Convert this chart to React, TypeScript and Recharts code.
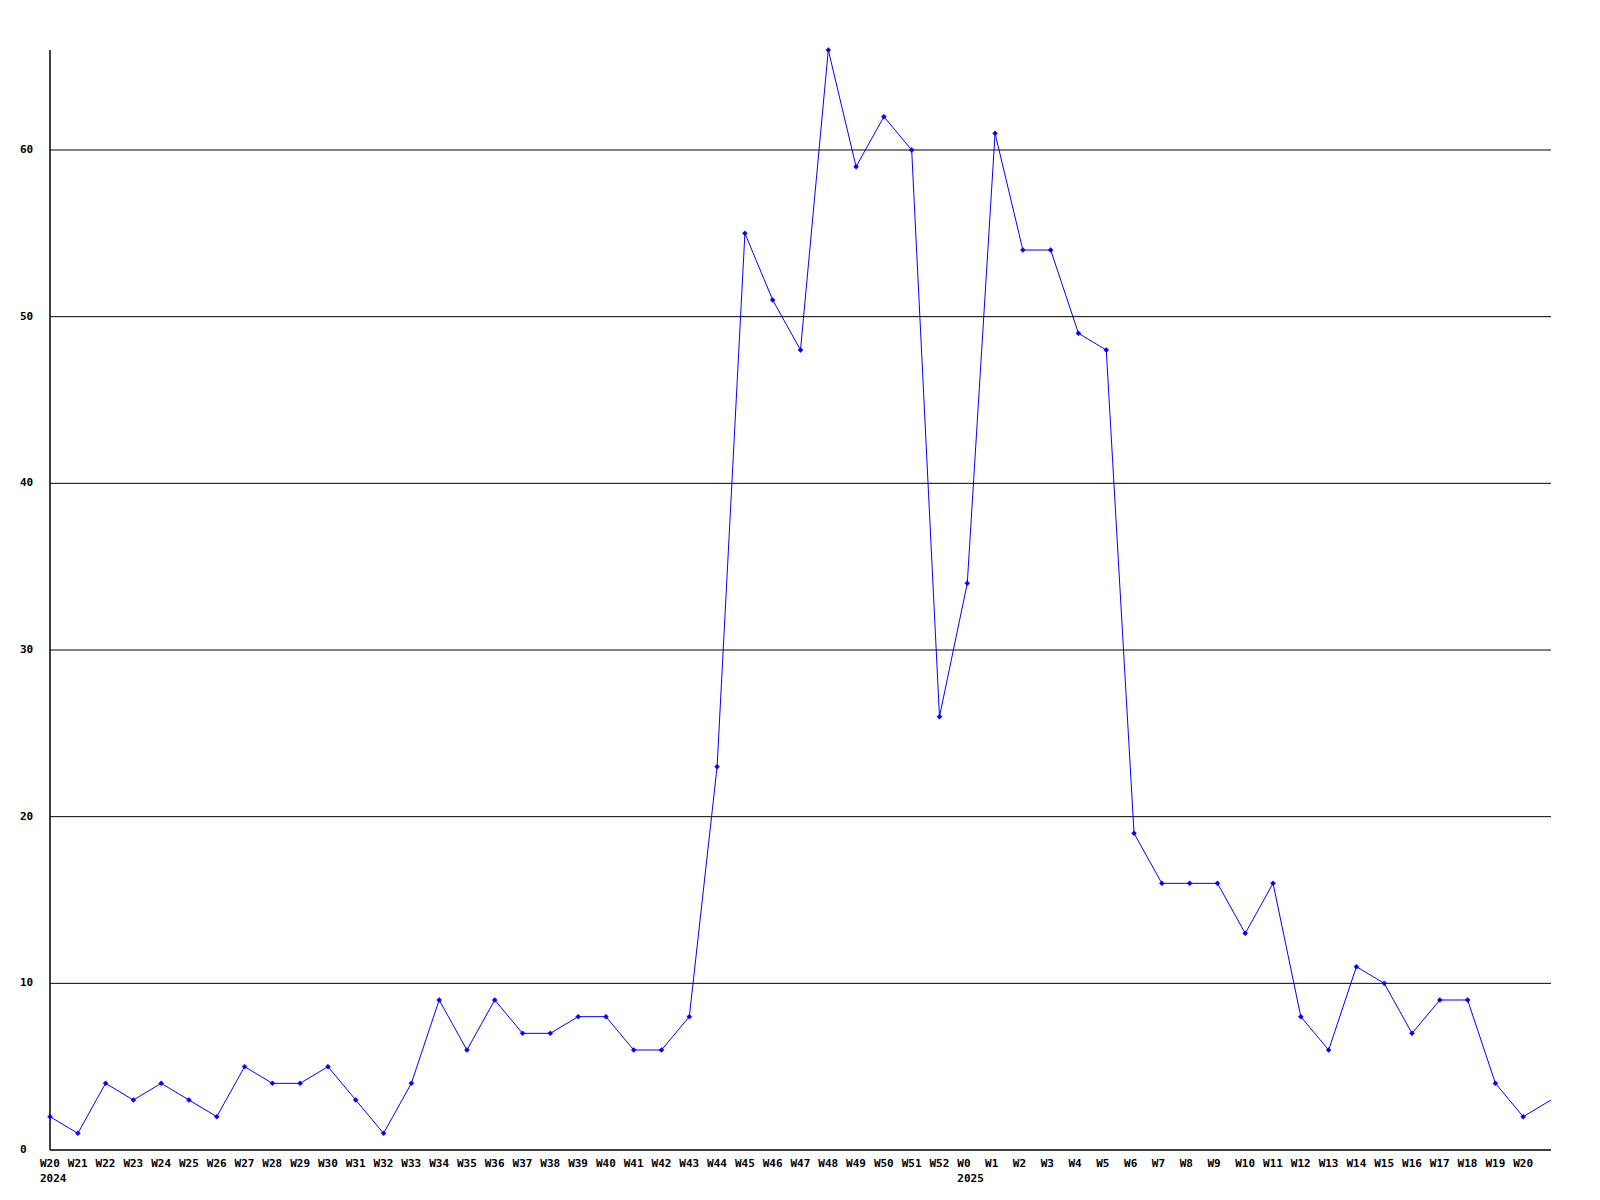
import React from "react";
import {
  LineChart,
  Line,
  XAxis,
  YAxis,
  CartesianGrid
} from "recharts";

// week labels, the last point (W21 of 2025) has no label shown
const weeks = [
  "W20", "W21", "W22", "W23", "W24", "W25", "W26", "W27", "W28", "W29", "W30",
  "W31", "W32", "W33", "W34", "W35", "W36", "W37", "W38", "W39", "W40", "W41",
  "W42", "W43", "W44", "W45", "W46", "W47", "W48", "W49", "W50", "W51", "W52",
  "W0", "W1", "W2", "W3", "W4", "W5", "W6", "W7", "W8", "W9", "W10", "W11",
  "W12", "W13", "W14", "W15", "W16", "W17", "W18", "W19", "W20", ""
];

// year shown under the first week of each year
const years: Record<number, string> = { 0: "2024", 33: "2025" };

const counts = [
  2, 1, 4, 3, 4, 3, 2, 5, 4, 4, 5,
  3, 1, 4, 9, 6, 9, 7, 7, 8, 8, 6,
  6, 8, 23, 55, 51, 48, 66, 59, 62, 60, 26,
  34, 61, 54, 54, 49, 48, 19, 16, 16, 16, 13, 16,
  8, 6, 11, 10, 7, 9, 9, 4, 2, 3
];

const yTicks = [0, 10, 20, 30, 40, 50, 60];
const gridLines = [10, 20, 30, 40, 50, 60];

const data = weeks.map((w, i) => ({ idx: i, week: w, value: counts[i] }));

const FONT = "'DejaVu Sans Mono', monospace";

const WeekTick = (props: any) => {
  const { x, y, payload } = props;
  const i = payload.value as number;
  const label = weeks[i];
  if (!label) return null;
  return (
    <g>
      <text x={x - 10} y={y + 6} textAnchor="start" dominantBaseline="middle"
        fontFamily={FONT} fontSize={11} fontWeight="bold" fill="#000">
        {label}
      </text>
      {years[i] && (
        <text x={x - 10} y={y + 21} textAnchor="start" dominantBaseline="middle"
          fontFamily={FONT} fontSize={11} fontWeight="bold" fill="#000">
          {years[i]}
        </text>
      )}
    </g>
  );
};

const ValueTick = (props: any) => {
  const { y, payload } = props;
  return (
    <text x={20} y={y} textAnchor="start" dominantBaseline="middle"
      fontFamily={FONT} fontSize={11} fontWeight="bold" fill="#000">
      {payload.value}
    </text>
  );
};

const Marker = (props: any) => {
  const { cx, cy, index } = props;
  if (index === data.length - 1 || cx == null) return <g key={index} />;
  return (
    <path
      key={index}
      d={`M${cx - 2.5},${cy} L${cx},${cy - 2.5} L${cx + 2.5},${cy} L${cx},${cy + 2.5} Z`}
      fill="#0000ff"
      stroke="#0000ff"
      strokeWidth={0.5}
    />
  );
};

export default function App() {
  return (
    <div style={{ position: "absolute", left: 0, top: 0, width: 1600, height: 1200, background: "#fff" }}>
      <LineChart
        width={1600}
        height={1200}
        data={data}
        margin={{ top: 50, right: 49, bottom: 0, left: 0 }}
      >
        <CartesianGrid
          vertical={false}
          horizontalValues={gridLines}
          stroke="#000"
          strokeWidth={1}
        />
        <XAxis
          dataKey="idx"
          type="category"
          interval={0}
          height={50}
          axisLine={{ stroke: "#000", strokeWidth: 1.5 }}
          tickLine={false}
          tick={<WeekTick />}
        />
        <YAxis
          type="number"
          domain={[0, 66]}
          ticks={yTicks}
          width={50}
          axisLine={{ stroke: "#000", strokeWidth: 1.5 }}
          tickLine={false}
          tick={<ValueTick />}
        />
        <Line
          type="linear"
          dataKey="value"
          stroke="#0000ff"
          strokeWidth={1}
          dot={Marker}
          activeDot={false}
          isAnimationActive={false}
        />
      </LineChart>
    </div>
  );
}
